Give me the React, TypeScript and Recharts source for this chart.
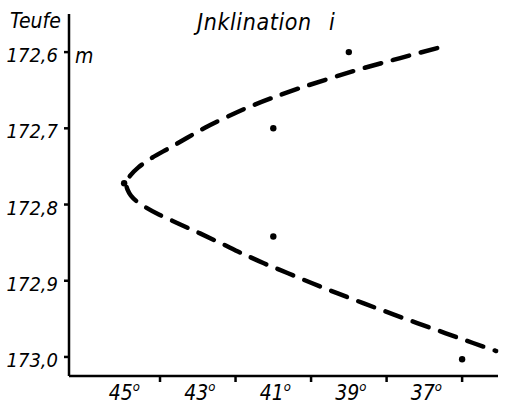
import { ComposedChart, Line, Scatter, XAxis, YAxis } from "recharts";

// measured inclination (degrees) against depth (m)
const measuredIncl = [39, 41, 44.95, 41, 36];
const measuredDepth = [172.6, 172.7, 172.772, 172.842, 173.003];

// hand-fitted dashed curve, top end to bottom end (monotone in depth)
const curveIncl = [
  36.66, 37.64, 38.6, 39.47, 40.29, 41.03, 41.7, 42.28, 42.81, 43.28, 43.74,
  44.21, 44.58, 44.79, 44.9, 44.86, 44.77, 44.61, 44.37, 44.03, 43.52, 42.94,
  42.38, 41.83, 41.25, 40.61, 39.97, 39.31, 38.62, 37.91, 37.19, 36.45, 35.71,
  35.1,
];
const curveDepth = [
  172.5948, 172.6078, 172.6209, 172.634, 172.6471, 172.6601, 172.6732,
  172.6863, 172.6993, 172.7124, 172.7255, 172.7386, 172.7516, 172.7621,
  172.7712, 172.7804, 172.7882, 172.7961, 172.8039, 172.8131, 172.8248,
  172.8379, 172.851, 172.8641, 172.8771, 172.8902, 172.9033, 172.9163,
  172.9294, 172.9425, 172.9556, 172.9686, 172.9817, 172.9922,
];

const inclTicks = [36, 37, 38, 39, 40, 41, 42, 43, 44, 45];
const depthTicks = [172.6, 172.7, 172.8, 172.9, 173.0];

const points = measuredIncl.map((incl, i) => ({ incl, depth: measuredDepth[i] }));
const curve = curveIncl.map((incl, i) => ({ incl, depth: curveDepth[i] }));

const FONT = "'DejaVu Sans Condensed', 'DejaVu Sans', sans-serif";

const InclTick = (props: any) => {
  const { x, y, payload } = props;
  const v = payload.value as number;
  // even degrees get a tick mark, odd degrees a label
  if (v % 2 === 0) {
    return <line x1={x} x2={x} y1={y} y2={y + 6} stroke="#000" strokeWidth={2.5} />;
  }
  return (
    <text
      x={x + 2}
      y={y + 24}
      textAnchor="middle"
      fontFamily={FONT}
      fontStyle="italic"
      fontSize={21}
      fill="#000"
    >
      {v}
      <tspan fontSize={13} dy={-9}>o</tspan>
    </text>
  );
};

const DepthTick = (props: any) => {
  const { x, y, payload } = props;
  const label = (payload.value as number).toFixed(1).replace(".", ",");
  return (
    <g>
      <line x1={x - 5} x2={x} y1={y} y2={y} stroke="#000" strokeWidth={2.5} />
      <text
        x={x - 11}
        y={y + 10}
        textAnchor="end"
        fontFamily={FONT}
        fontStyle="italic"
        fontSize={20}
        fill="#000"
      >
        {label}
      </text>
    </g>
  );
};

export default function App() {
  return (
    <div style={{ position: "absolute", left: 0, top: 0, background: "#fff" }}>
      <ComposedChart
        width={509}
        height={406}
        margin={{ top: 14, right: 11, left: 0, bottom: 0 }}
      >
        <XAxis
          type="number"
          dataKey="incl"
          domain={[35.05, 46.41]}
          reversed
          ticks={inclTicks}
          interval={0}
          height={30}
          tickSize={0}
          tickMargin={0}
          tickLine={false}
          axisLine={{ stroke: "#000", strokeWidth: 2.5 }}
          tick={<InclTick />}
        />
        <YAxis
          type="number"
          dataKey="depth"
          domain={[172.55, 173.025]}
          reversed
          ticks={depthTicks}
          interval={0}
          width={69}
          tickSize={0}
          tickMargin={0}
          tickLine={false}
          axisLine={{ stroke: "#000", strokeWidth: 2.5 }}
          tick={<DepthTick />}
        />
        <Line
          data={curve}
          dataKey="depth"
          type="monotoneY"
          stroke="#000"
          strokeWidth={4.5}
          strokeDasharray="17 12"
          strokeLinecap="round"
          dot={false}
          activeDot={false}
          isAnimationActive={false}
        />
        <Scatter
          data={points}
          dataKey="depth"
          fill="#000"
          isAnimationActive={false}
          shape={(p: any) => <circle cx={p.cx} cy={p.cy} r={3.2} fill="#000" />}
        />
        <text x={10} y={28} fontFamily={FONT} fontStyle="italic" fontSize={21} fill="#000">
          Teufe
        </text>
        <text x={75} y={63} fontFamily={FONT} fontStyle="italic" fontSize={21} fill="#000">
          m
        </text>
        <text
          x={197}
          y={30}
          fontFamily={FONT}
          fontStyle="italic"
          fontSize={23}
          letterSpacing={0.6}
          fill="#000"
        >
          Jnklination
        </text>
        <text x={329} y={30} fontFamily={FONT} fontStyle="italic" fontSize={23} fill="#000">
          i
        </text>
      </ComposedChart>
    </div>
  );
}
